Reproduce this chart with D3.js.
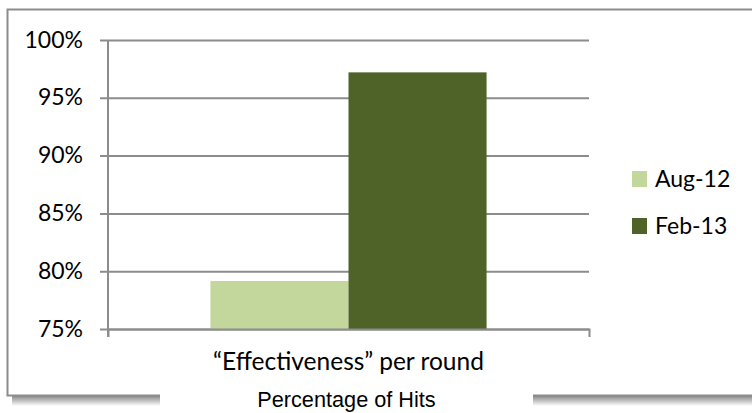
<!DOCTYPE html>
<html>
<head>
<meta charset="utf-8">
<script src="https://cdn.jsdelivr.net/npm/d3@7"></script>
<style>
  html, body { margin: 0; padding: 0; background: #fff; }
  svg { display: block; }
</style>
</head>
<body>
<svg id="chart" width="752" height="413"></svg>
<script>
// Chart data
const categories = ["\u201CEffectiveness\u201D per round"];
const seriesNames = ["Aug-12", "Feb-13"];
const seriesValues = [79.15, 97.2];
const seriesColors = ["#C3D69B", "#4F6228"];
const yTicks = [75, 80, 85, 90, 95, 100];
const axisTitle = "Percentage of Hits";

const svg = d3.select("#chart");
const W = 752, H = 413;
const labelFont = "Lato, 'Open Sans', sans-serif";

// Drop shadow under the frame
const defs = svg.append("defs");
const grad = defs.append("linearGradient").attr("id", "shadow").attr("x1", 0).attr("y1", 0).attr("x2", 0).attr("y2", 1);
grad.append("stop").attr("offset", "0%").attr("stop-color", "#8a8a8a");
grad.append("stop").attr("offset", "100%").attr("stop-color", "#ffffff");
svg.append("rect").attr("x", 12).attr("y", 396).attr("width", W).attr("height", 10).attr("fill", "url(#shadow)");

// Outer frame
svg.append("rect")
  .attr("x", 7.5).attr("y", 9.5).attr("width", W + 10).attr("height", 386)
  .attr("fill", "#fff").attr("stroke", "#8c8c8c").attr("stroke-width", 2);

// Plot area
const plot = { left: 108, right: 589, top: 40, bottom: 329 };

const y = d3.scaleLinear().domain([75, 100]).range([plot.bottom, plot.top]);
const x0 = d3.scaleBand().domain(categories).range([plot.left, plot.right]).paddingInner(0).paddingOuter(0.371);
const x1 = d3.scaleBand().domain(seriesNames).range([0, x0.bandwidth()]).padding(0);

// Horizontal gridlines with tick stubs
const yAxis = d3.axisLeft(y).tickValues(yTicks).tickSize(-(plot.right - plot.left)).tickSizeOuter(0).tickFormat("");
const gy = svg.append("g").attr("transform", `translate(${plot.left},0)`).call(yAxis);
gy.select(".domain").remove();
gy.selectAll(".tick line").attr("stroke", "#8c8c8c").attr("stroke-width", 2).attr("x1", -8);

// Tick labels
svg.append("g").selectAll("text").data(yTicks).join("text")
  .attr("x", 83).attr("y", d => y(d)).attr("dy", "0.33em")
  .attr("text-anchor", "end")
  .attr("font-family", labelFont).attr("font-size", 23).attr("fill", "#000")
  .text(d => d + "%");

// Bars
svg.append("g").selectAll("rect")
  .data(seriesNames.map((s, i) => ({ s, v: seriesValues[i], c: seriesColors[i] })))
  .join("rect")
  .attr("x", d => x0(categories[0]) + x1(d.s))
  .attr("y", d => y(d.v))
  .attr("width", x1.bandwidth())
  .attr("height", d => y(75) - y(d.v))
  .attr("fill", d => d.c);

// Vertical axis line
svg.append("line")
  .attr("x1", plot.left).attr("x2", plot.left)
  .attr("y1", plot.top).attr("y2", plot.bottom + 8)
  .attr("stroke", "#8c8c8c").attr("stroke-width", 2);

// Category axis
const xAxis = d3.axisBottom(x0).tickSize(0).tickSizeOuter(8).tickFormat("");
const gx = svg.append("g").attr("transform", `translate(0,${plot.bottom})`).call(xAxis);
gx.select(".domain").attr("stroke", "#8c8c8c").attr("stroke-width", 2);
gx.selectAll(".tick").remove();

// Category label
svg.append("text")
  .attr("x", x0(categories[0]) + x0.bandwidth() / 2).attr("y", 370)
  .attr("text-anchor", "middle")
  .attr("font-family", labelFont).attr("font-size", 24.5).attr("fill", "#000")
  .text(categories[0]);

// Axis title, set on a white band that breaks the frame
const cx = (plot.left + plot.right) / 2 - 2;
svg.append("rect").attr("x", 160).attr("y", 384).attr("width", 373).attr("height", 29).attr("fill", "#fff");
svg.append("text")
  .attr("x", cx).attr("y", 407)
  .attr("text-anchor", "middle")
  .attr("font-family", "'Liberation Sans', Arial, sans-serif").attr("font-size", 21.7).attr("fill", "#000")
  .text(axisTitle);

// Legend
const legend = svg.append("g").selectAll("g").data(seriesNames).join("g")
  .attr("transform", (d, i) => `translate(632,${171 + i * 47})`);
legend.append("rect").attr("width", 15).attr("height", 16).attr("fill", (d, i) => seriesColors[i]);
legend.append("text")
  .attr("x", 23).attr("y", 8).attr("dy", "0.33em")
  .attr("font-family", labelFont).attr("font-size", 23).attr("fill", "#000")
  .text(d => d);
</script>
</body>
</html>
